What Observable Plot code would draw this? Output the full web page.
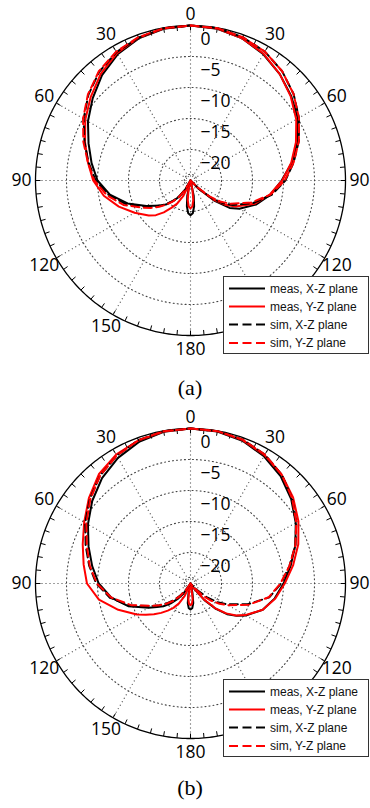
<!DOCTYPE html>
<html><head><meta charset="utf-8">
<script src="https://cdn.jsdelivr.net/npm/d3@7"></script>
<script src="https://cdn.jsdelivr.net/npm/@observablehq/plot@0.6"></script>
<style>
body{margin:0;background:#fff;}
#wrap{position:relative;width:370px;height:808px;overflow:hidden;background:#fff;}
.panel{position:absolute;left:0;}
.cap{position:absolute;left:190px;font-family:"Liberation Serif","Times New Roman",serif;font-size:22px;color:#000;transform:translate(-50%,-50%);line-height:1;}
.legend{position:absolute;left:223px;width:144px;height:76px;border:1px solid #333;background:#fff;}
</style></head>
<body><div id="wrap"></div>
<script>
// ---- data (angle in degrees, 0 at top, positive to the right; values in dB) ----
const angles = [-180,-176,-172,-168,-164,-160,-155,-150,-145,-140,-135,-130,-125,-120,-110,-100,-90,-80,-70,-60,-50,-40,-30,-20,-10,0,10,20,30,40,50,60,70,80,90,100,110,120,125,130,135,140,145,150,155,160,164,168,172,176,180];

const aMeasXZ = [-19.4,-19.7,-20.8,-22.5,-26,-26,-25.5,-23.5,-21.8,-20.7,-19.6,-18.7,-17.9,-16.8,-14.2,-11.8,-10.0,-8.8,-7.5,-5.9,-4.4,-2.8,-1.5,-0.6,-0.15,0,-0.15,-0.6,-1.5,-2.6,-3.8,-5.0,-6.6,-8.4,-10.3,-11.9,-13.7,-15.9,-17.3,-19.9,-23.0,-26,-26,-26,-26,-26,-26,-22.5,-20.8,-19.7,-19.4];
const aMeasYZ = [-20.5,-20.8,-21.8,-23.5,-26,-24.3,-22.2,-20.7,-19.6,-18.3,-17.1,-16.2,-15.5,-14.6,-12.7,-10.8,-9.3,-8.2,-6.9,-5.4,-4.0,-2.5,-1.3,-0.5,-0.1,0,-0.1,-0.6,-1.4,-2.6,-3.9,-5.3,-6.9,-8.5,-10.2,-12.0,-14.0,-16.6,-18.2,-20.3,-23.2,-26,-26,-26,-26,-26,-26,-23.5,-21.8,-20.8,-20.5];
const aSimXZ = [-26,-26,-26,-26,-26,-26,-25,-23.4,-22.0,-20.8,-19.7,-18.7,-17.7,-16.6,-13.9,-11.6,-9.7,-8.3,-6.8,-5.1,-3.5,-2.1,-1.1,-0.5,-0.05,0,-0.05,-0.4,-1.0,-2.0,-3.3,-4.8,-6.4,-8.1,-9.7,-11.7,-14.3,-17.1,-18.6,-20.6,-23.2,-26,-26,-26,-26,-26,-26,-26,-26,-26,-26];
const aSimYZ = [-26,-26,-26,-26,-26,-26,-25,-23.2,-21.8,-20.6,-19.5,-18.4,-17.3,-16.2,-13.5,-11.3,-9.5,-8.2,-6.6,-5.0,-3.4,-2.0,-1.0,-0.4,-0.05,0,-0.05,-0.4,-1.0,-2.0,-3.3,-4.8,-6.4,-8.1,-9.8,-11.9,-14.6,-17.5,-19.0,-21.0,-23.5,-26,-26,-26,-26,-26,-26,-26,-26,-26,-26];

const bMeasXZ = [-20.8,-21.0,-21.8,-23.5,-26,-26,-26,-24.5,-23.0,-21.7,-20.4,-19.3,-18.4,-17.2,-14.3,-12.0,-10.2,-8.9,-7.5,-5.9,-4.3,-2.8,-1.6,-0.7,-0.15,0,-0.1,-0.5,-1.3,-2.4,-3.8,-5.4,-7.0,-8.6,-10.0,-11.2,-12.6,-14.7,-15.9,-17.3,-19.2,-21.5,-24.0,-26,-26,-26,-26,-23.5,-21.8,-21.0,-20.8];
const bMeasYZ = [-21.5,-21.7,-22.5,-24.3,-26,-25,-22.8,-21.3,-20.2,-19.3,-18.3,-17.3,-16.2,-15.0,-12.6,-10.0,-8.3,-7.5,-6.5,-5.2,-3.6,-2.0,-1.0,-0.45,-0.1,0,-0.05,-0.4,-1.1,-2.1,-3.4,-4.9,-6.5,-8.2,-9.8,-11.1,-12.6,-14.8,-16.0,-17.5,-19.4,-21.7,-24.2,-26,-26,-26,-26,-24.3,-22.5,-21.7,-21.5];
const bSimXZ = [-26,-26,-26,-26,-26,-26,-26,-26,-24.0,-22.5,-21.2,-20.0,-18.9,-17.7,-14.6,-11.8,-9.8,-8.4,-7.0,-5.4,-3.8,-2.3,-1.2,-0.4,-0.05,0,-0.05,-0.3,-1.0,-2.1,-3.6,-5.3,-7.0,-8.8,-10.4,-12.1,-15.2,-18.3,-19.8,-21.6,-23.5,-26,-26,-26,-26,-26,-26,-26,-26,-26,-26];
const bSimYZ = [-26,-26,-26,-26,-26,-26,-26,-26,-23.8,-22.3,-21.0,-19.9,-18.9,-17.8,-14.8,-12.0,-9.9,-8.5,-7.2,-5.6,-3.9,-2.3,-1.2,-0.4,-0.05,0,-0.05,-0.3,-1.0,-2.1,-3.6,-5.3,-7.0,-8.8,-10.5,-12.2,-15.0,-18.0,-19.3,-20.7,-22.3,-24.2,-26,-26,-26,-26,-26,-26,-26,-26,-26];

const seriesNames = ["meas, X-Z plane","meas, Y-Z plane","sim, X-Z plane","sim, Y-Z plane"];
const seriesColors = ["#000000","#ff0000","#000000","#ff0000"];
const seriesDashed = [false,false,true,true];

const ringDb = [-5,-10,-15,-20,-24];
const ringLabelDb = [0,-5,-10,-15,-20];
const ringLabelText = ["0","\u22125","\u221210","\u221215","\u221220"];
const spokeAngles = [0,30,60,90,120,150,180,210,240,270,300,330];
const tickAngles = d3.range(0,360,5);
// right-hand 150 is hidden behind the legend in the reference
const angleLabelValues = [30,60,90,120,180,-30,-60,-90,-120,-150];
const topLabelValues = [0];

// ---- polar helpers (azimuthal equidistant projection centred on the pole) ----
const RMIN = -25;             // dB at the centre
const lon = a => 180 - a;     // angle -> longitude
const lat = db => 90 - (Math.max(db, RMIN) - RMIN); // dB -> latitude
const outer = d3.geoCircle().center([0,90]).radius(-RMIN).precision(1)();

const wrap = document.getElementById("wrap");

function polar(series, top, mt, mb) {
  const H = mt + 310 + mb;
  const gridStyle = {fill:"none", stroke:"#444", strokeWidth:1.1, strokeDasharray:"1,3"};
  const labelStyle = {fontSize: 17.5, fontFamily:"'Open Sans', sans-serif", fill:"#000"};
  const marks = [
    Plot.geo(ringDb, {geometry: d => d3.geoCircle().center([0,90]).radius(d - RMIN).precision(2)(), ...gridStyle}),
    Plot.link(spokeAngles, {x1: a => lon(a), y1: () => 90, x2: a => lon(a), y2: () => lat(0), ...gridStyle}),
    Plot.link(tickAngles, {x1: a => lon(a), y1: () => lat(0), x2: a => lon(a), y2: () => lat(-0.8), stroke:"#000", strokeWidth:1}),
    Plot.geo([outer], {fill:"none", stroke:"#000", strokeWidth:1.3}),
  ];
  series.forEach((vals, k) => {
    const rows = angles.map((a, i) => ({a, db: vals[i]}));
    marks.push(Plot.line(rows, {x: d => lon(d.a), y: d => lat(d.db), stroke: seriesColors[k], strokeWidth: 2,
      strokeDasharray: seriesDashed[k] ? "8,4.5" : null, strokeLinejoin:"round"}));
  });
  marks.push(Plot.text(ringLabelDb, {x: () => lon(0), y: d => lat(d), text: (d, i) => ringLabelText[i], dx: 10, dy: 14,
    textAnchor:"start", ...labelStyle}));
  marks.push(Plot.text(angleLabelValues, {x: a => lon(a), y: () => lat(2.25), text: a => String(Math.abs(a)), ...labelStyle}));
  marks.push(Plot.text(topLabelValues, {x: a => lon(a), y: () => lat(2.25), dy: 3, text: a => String(Math.abs(a)), ...labelStyle}));
  const p = Plot.plot({
    width: 370, height: H,
    marginTop: mt, marginBottom: mb, marginLeft: 35, marginRight: 25,
    projection: {type: "azimuthal-equidistant", rotate: [0, -90], domain: outer, clip: false},
    style: {background: "transparent", overflow: "visible"},
    marks
  });
  p.classList.add("panel");
  p.style.top = top + "px";
  wrap.appendChild(p);
}

function legend(top) {
  const div = document.createElement("div");
  div.className = "legend";
  div.style.top = top + "px";
  const rowsY = [11.5, 29.5, 47.5, 66];
  let s = '<svg width="144" height="76" xmlns="http://www.w3.org/2000/svg">';
  seriesNames.forEach((n, i) => {
    s += `<line x1="5" x2="41" y1="${rowsY[i]}" y2="${rowsY[i]}" stroke="${seriesColors[i]}" stroke-width="2"${seriesDashed[i] ? ' stroke-dasharray="9,4.5"' : ''}/>`;
    s += `<text x="46" y="${rowsY[i]}" dy="0.35em" font-family="'Liberation Sans', Arial, sans-serif" font-size="12" fill="#111">${n}</text>`;
  });
  s += '</svg>';
  div.innerHTML = s;
  wrap.appendChild(div);
}

function caption(text, y) {
  const c = document.createElement("div");
  c.className = "cap";
  c.style.top = y + "px";
  c.textContent = text;
  wrap.appendChild(c);
}

polar([aMeasXZ, aMeasYZ, aSimXZ, aSimYZ], 0, 25, 30);
legend(276);
caption("(a)", 388);
polar([bMeasXZ, bMeasYZ, bSimXZ, bSimYZ], 405, 23, 27);
legend(679);
caption("(b)", 788);
</script></body></html>
